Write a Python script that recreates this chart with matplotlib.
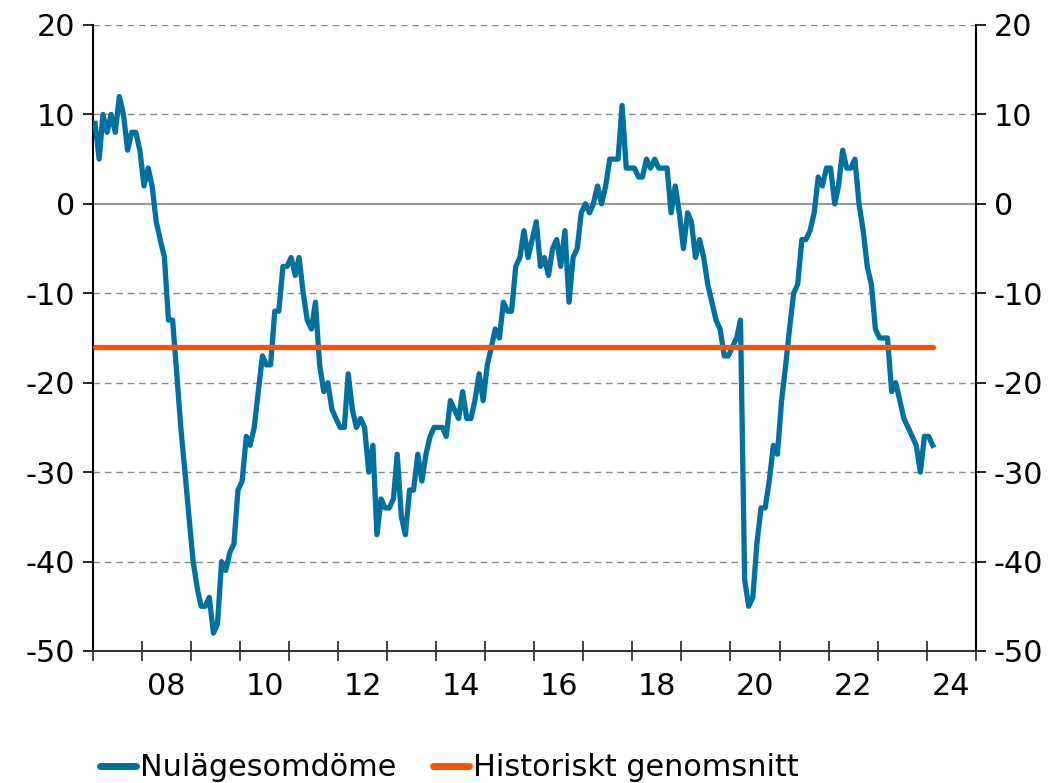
import numpy as np
import pandas as pd
import matplotlib
matplotlib.use("Agg")
import matplotlib.pyplot as plt
import matplotlib.dates as mdates

plt.rcParams["axes.unicode_minus"] = False

# monthly series, Jan 2007 - Feb 2024
start = "2007-01-01"
nulage = [
    9, 5, 10, 8, 10, 8, 12, 10, 6, 8, 8, 6,            # 2007
    2, 4, 2, -2, -4, -6, -13, -13, -19, -25, -30, -35,  # 2008
    -40, -43, -45, -45, -44, -48, -47, -40, -41, -39, -38, -32,  # 2009
    -31, -26, -27, -25, -21, -17, -18, -18, -12, -12, -7, -7,    # 2010
    -6, -8, -6, -10, -13, -14, -11, -18, -21, -20, -23, -24,     # 2011
    -25, -25, -19, -23, -25, -24, -25, -30, -27, -37, -33, -34,  # 2012
    -34, -33, -28, -35, -37, -32, -32, -28, -31, -28, -26, -25,  # 2013
    -25, -25, -26, -22, -23, -24, -21, -24, -24, -22, -19, -22,  # 2014
    -18, -16, -14, -15, -11, -12, -12, -7, -6, -3, -6, -4,       # 2015
    -2, -7, -6, -8, -5, -4, -7, -3, -11, -6, -5, -1,             # 2016
    0, -1, 0, 2, 0, 2, 5, 5, 5, 11, 4, 4,                        # 2017
    4, 3, 3, 5, 4, 5, 4, 4, 4, -1, 2, -1,                        # 2018
    -5, -1, -2, -6, -4, -6, -9, -11, -13, -14, -17, -17,         # 2019
    -16, -15, -13, -42, -45, -44, -38, -34, -34, -31, -27, -28,  # 2020
    -22, -18, -14, -10, -9, -4, -4, -3, -1, 3, 2, 4,             # 2021
    4, 0, 2, 6, 4, 4, 5, 0, -3, -7, -9, -14,                     # 2022
    -15, -15, -15, -21, -20, -22, -24, -25, -26, -27, -30, -26,  # 2023
    -26, -27,                                                    # 2024
]
hist_avg = -16

labels = ["Nulägesomdöme", "Historiskt genomsnitt"]
blue = "#00709E"
orange = "#FF4F00"
fs = 21.8

dates = pd.date_range(start, periods=len(nulage), freq="MS") + pd.Timedelta(days=15)
avg = np.full(len(nulage), hist_avg)

fig = plt.figure(figsize=(10.63, 7.83), dpi=100)
ax = fig.add_axes([93 / 1063, 1 - 651 / 783, (975.7 - 93) / 1063, (651 - 25) / 783])

# grid
for yv in [20, 10, -10, -20, -30, -40]:
    ax.axhline(yv, color="#8a8a8a", lw=1.0, ls=(0, (4.8, 3.4)), zorder=1)
ax.axhline(0, color="#9a9a9a", lw=1.6, zorder=1)

ax.plot(dates, nulage, color=blue, lw=3.8, label=labels[0], zorder=3,
        solid_joinstyle="round")
ax.plot(dates, avg, color=orange, lw=3.8, label=labels[1], zorder=4,
        solid_capstyle="round")

ax.set_xlim(pd.Timestamp("2007-01-01"), pd.Timestamp("2025-01-01"))
ax.set_ylim(-50, 20)
ax.set_yticks(range(-50, 21, 10))

ax.xaxis.set_major_locator(mdates.YearLocator(1))
ax.xaxis.set_major_formatter(plt.NullFormatter())
ax.xaxis.set_minor_locator(mdates.YearLocator(2, month=7, day=1))
ax.xaxis.set_minor_formatter(mdates.DateFormatter("%y"))
ax.tick_params(axis="x", which="major", direction="inout", length=14, width=1.2, color="#222222")
ax.tick_params(axis="x", which="minor", length=0, labelsize=fs, pad=15)
ax.tick_params(axis="y", direction="out", length=7, width=1.2, labelsize=fs,
               right=True, labelright=True, pad=6)

ax.spines["top"].set_visible(False)
for side in ["left", "right"]:
    ax.spines[side].set_linewidth(1.5)
    ax.spines[side].set_color("black")
ax.spines["bottom"].set_linewidth(1.5)
ax.spines["bottom"].set_color("#333333")

leg = fig.legend(loc="center left", bbox_to_anchor=(100 / 1063, 1 - 768 / 783),
                 ncol=2, frameon=False, fontsize=fs, borderpad=0, borderaxespad=0,
                 handlelength=1.2, handletextpad=0.12, columnspacing=1.2)
for line in leg.get_lines():
    line.set_linewidth(5)
    line.set_solid_capstyle("round")

fig.savefig("out.png", dpi=100)
